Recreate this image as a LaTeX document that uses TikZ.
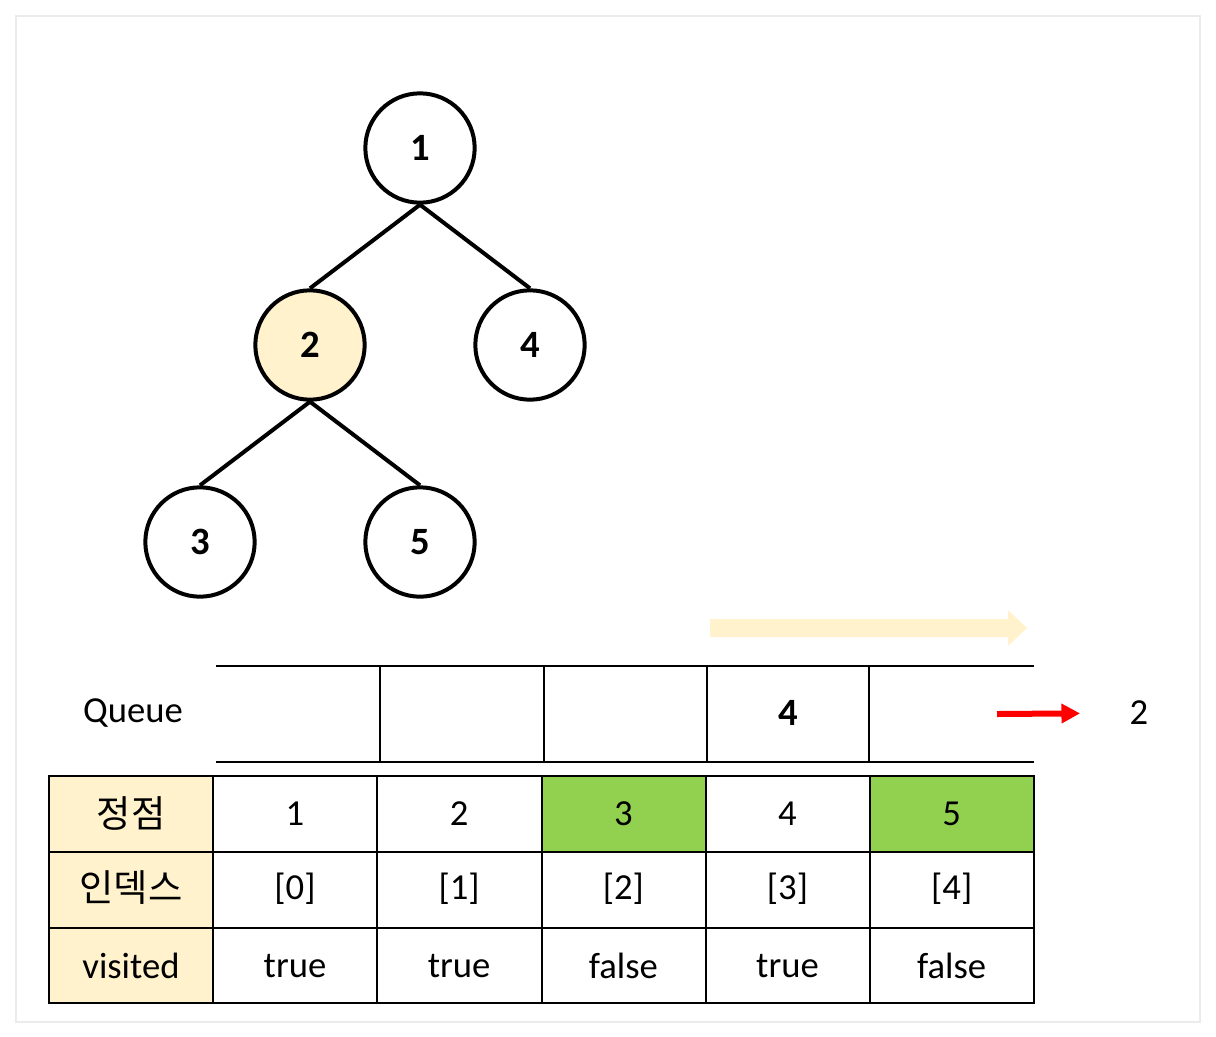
\documentclass[tikz,border=0pt]{standalone}
\usepackage{fontspec}
\setmainfont{Carlito}
\newfontfamily\krfont{Noto Sans CJK KR}
\usetikzlibrary{arrows.meta}
\definecolor{paleyellow}{HTML}{FFF2CC}
\definecolor{visitgreen}{HTML}{92D050}
\definecolor{popred}{HTML}{FF0000}
\tikzset{
	vertex/.style={circle, draw, line width=3pt, minimum size=82pt, inner sep=0pt, font=\fontsize{29}{32}\selectfont\bfseries},
	edge/.style={line width=3pt},
	cell/.style={draw, line width=1.5pt},
	celltext/.style={inner sep=0pt, font=\fontsize{27.5}{30}\selectfont},
	krtext/.style={inner sep=0pt, font=\fontsize{28}{30}\krfont},
	qline/.style={line width=1.5pt}
}
\begin{document}
\begin{tikzpicture}[x=0.75pt,y=-0.75pt]
	\useasboundingbox (0,0) rectangle (1216,1036);
	\draw[line width=2pt, black!8] (16,16) rectangle (1200,1022);
	
	% tree
	\node[vertex] (v1) at (420,148) {1};
	\node[vertex, fill=paleyellow] (v2) at (310,345) {2};
	\node[vertex] (v4) at (530,345) {4};
	\node[vertex] (v3) at (200,542) {3};
	\node[vertex] (v5) at (420,542) {5};
	\draw[edge] (v1.south) -- (v2.north);
	\draw[edge] (v1.south) -- (v4.north);
	\draw[edge] (v2.south) -- (v3.north);
	\draw[edge] (v2.south) -- (v5.north);
	
	% queue direction
	\fill[paleyellow] (710,619) -- (1008,619) -- (1008,610) -- (1027,628) -- (1008,646) -- (1008,637) -- (710,637) -- cycle;
	
	% queue
	\draw[qline] (216,666) -- (1034,666);
	\draw[qline] (216,762) -- (1034,762);
	\foreach \x in {380,544,707,869}
		\draw[qline] (\x,666) -- (\x,762);
	\node[celltext] (qlabel) at (133,713) {Queue};
	\node[celltext, font=\fontsize{29}{32}\selectfont\bfseries] (qfour) at (788,713) {4};
	\node[celltext] (popped) at (1139,713) {2};
	\coordinate (popstart) at (997,714);
	\draw[line width=4.5pt, popred, -{Triangle[length=14pt, width=14pt]}, shorten >=37pt] (popstart) -- (popped.west);
	
	% table
	\fill[paleyellow] (49,776) rectangle (213,1003);
	\fill[visitgreen] (541,776) rectangle (706,852);
	\fill[visitgreen] (870,776) rectangle (1034,852);
	\foreach \c in {0,...,5}
		\foreach \r in {0,1,2}
			\draw[cell] ({49+164.17*\c},{776+75.8*\r}) rectangle ++(164.17,75.8);
	
	\node[krtext] (rowvertex) at (131,813) {정점};
	\node[krtext] (rowindex) at (131,888) {인덱스};
	\node[celltext] (rowvisited) at (131,966) {visited};
	\foreach \v [count=\i from 0] in {1,2,3,4,5}
		\node[celltext] (num\v) at ({295+164.17*\i},814) {\v};
	\foreach \v [count=\i from 0] in {1,2,3,4,5}
		\node[celltext] (idx\v) at ({295+164.17*\i},889) {[\i]};
	\foreach \b [count=\i from 0] in {true,true,false,true,false}
		\node[celltext] (vis\i) at ({295+164.17*\i},966) {\b};
\end{tikzpicture}
\end{document}
